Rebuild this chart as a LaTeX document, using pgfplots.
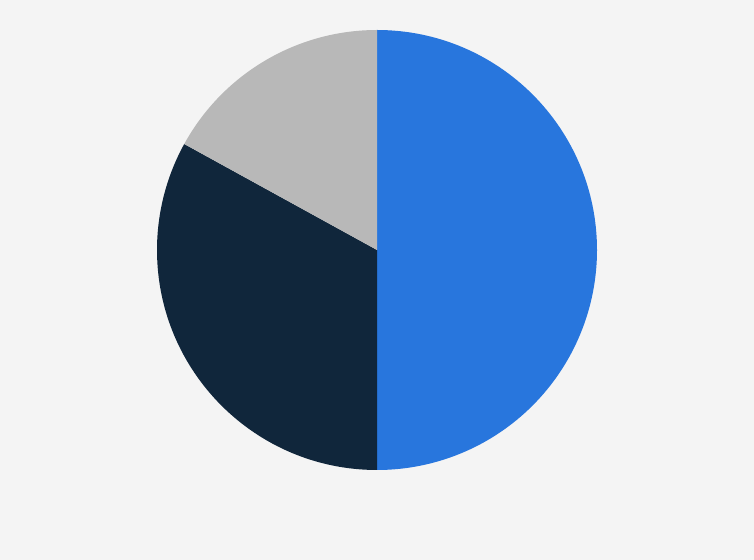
\documentclass[border=0pt]{standalone}
\usepackage{pgfplots}
\usepackage{pgfplotstable}
\pgfplotsset{compat=1.18}

\definecolor{bgc}{HTML}{F4F4F4}
\definecolor{sliceblue}{HTML}{2876DD}
\definecolor{slicenavy}{HTML}{10263B}
\definecolor{slicegray}{HTML}{B8B8B8}

% shares in percent, clockwise from 12 o'clock
\pgfplotstableread{
label share
a 50
b 33
c 17
}\piedata

\begin{document}
\begin{tikzpicture}
\fill[bgc] (0,0) rectangle (754bp,560bp);

\pgfplotstablegetelem{0}{share}\of\piedata \let\sA\pgfplotsretval
\pgfplotstablegetelem{1}{share}\of\piedata \let\sB\pgfplotsretval
\pgfplotstablegetelem{2}{share}\of\piedata \let\sC\pgfplotsretval
\pgfmathsetmacro\aA{90}
\pgfmathsetmacro\aB{\aA-3.6*\sA}
\pgfmathsetmacro\aC{\aB-3.6*\sB}
\pgfmathsetmacro\aD{\aC-3.6*\sC}

\begin{axis}[
  hide axis,
  anchor=origin,
  at={(377bp,310bp)},
  x=220bp, y=220bp,
  xmin=-1, xmax=1,
  ymin=-1, ymax=1,
  clip=false
]
\fill[sliceblue] (axis cs:0,0) -- (axis cs:{cos(\aA)},{sin(\aA)})
  arc[start angle=\aA, end angle=\aB, radius=220bp] -- cycle;
\fill[slicenavy] (axis cs:0,0) -- (axis cs:{cos(\aB)},{sin(\aB)})
  arc[start angle=\aB, end angle=\aC, radius=220bp] -- cycle;
\fill[slicegray] (axis cs:0,0) -- (axis cs:{cos(\aC)},{sin(\aC)})
  arc[start angle=\aC, end angle=\aD, radius=220bp] -- cycle;
\end{axis}
\end{tikzpicture}
\end{document}
